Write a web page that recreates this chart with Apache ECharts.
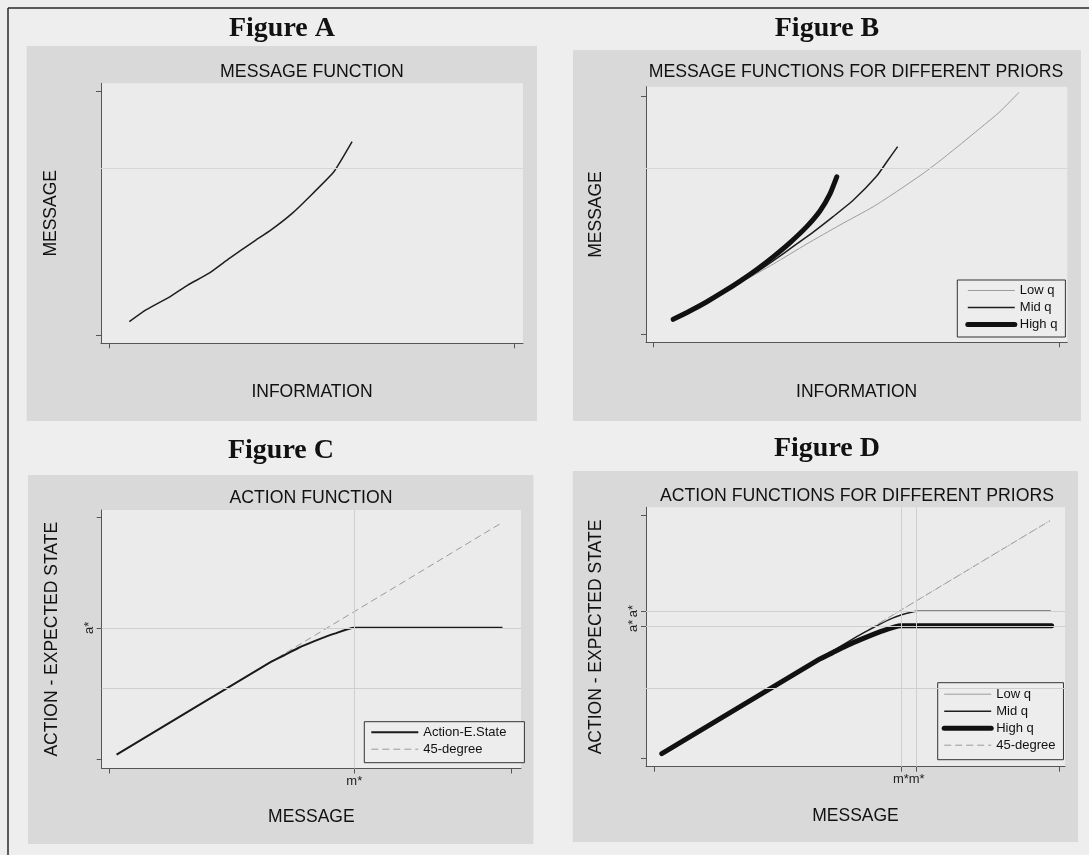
<!DOCTYPE html>
<html>
<head>
<meta charset="utf-8">
<script src="https://cdn.jsdelivr.net/npm/echarts@6/dist/echarts.min.js"></script>
<style>
  html, body { margin: 0; padding: 0; background: #eeeeee; }
  #chart { width: 1089px; height: 855px; }
</style>
</head>
<body>
<div id="chart"></div>
<script>
// ---- Figure A: message function (information -> message), scale 0..100 between end ticks
const messageFn = [[4.9,5.5],[9.0,10.3],[15.0,15.8],[19.3,20.5],[24.5,25.3],[29.6,31.5],[35.6,38.4],[39.9,43.2],[45.1,50.0],[50.2,58.2],[55.4,67.1],[59.9,79.5]];

// ---- Figure B: message functions for three priors
const lowQ  = [[4.9,6.3],[13.1,13.6],[21.3,21.5],[29.6,29.6],[37.8,38.0],[46.0,46.0],[54.2,53.7],[59.9,60.0],[66.5,67.7],[70.6,73.0],[75.5,79.7],[80.5,86.7],[85.4,93.7],[90.1,101.8]];
const midQ  = [[4.9,6.3],[9.0,9.9],[13.1,13.5],[17.2,17.5],[21.3,21.8],[25.5,26.2],[29.6,31.0],[34.5,37.0],[39.4,43.0],[44.3,49.5],[49.3,56.5],[55.0,66.5],[57.5,72.5],[60.2,79.0]];
const highQ = [[4.9,6.3],[9.0,9.8],[13.1,13.6],[17.2,17.8],[21.3,22.3],[25.5,27.3],[29.6,32.7],[33.7,38.6],[37.8,45.3],[41.1,52.0],[43.5,59.0],[45.2,66.3]];

// ---- Figure C: action function with its cap
const mStar = 60.9, aStar = 54.2;
const actionFn  = [[1.9,1.9],[40.0,40.0],[43.5,42.9],[47.0,45.9],[51.0,48.7],[56.0,51.8],[60.9,54.2],[97.7,54.2]];
const diagonalC = [[1.9,1.9],[97.7,97.7]];

// ---- Figure D: action functions for three priors
const mStarHigh = 60.9, mStarMid = 64.8, aStarHigh = 54.5, aStarMid = 60.5;
const lowQD     = [[1.9,1.9],[97.7,97.7]];
const midQD     = [[1.9,1.9],[50.0,50.0],[54.0,53.6],[58.0,57.0],[61.1,59.0],[64.8,60.5],[97.9,60.5]];
const highQD    = [[1.9,1.9],[40.5,40.5],[44.0,43.4],[47.5,46.3],[51.5,49.2],[56.0,52.2],[60.9,54.5],[98.1,54.5]];
const diagonalD = [[1.9,1.9],[97.7,97.7]];

// faint horizontal rules running through each plot region
const ruleA = 68.5, ruleB = 69.9, ruleC = 29.3, ruleD = 29.0;

const SANS = '"Liberation Sans", Arial, sans-serif';
const SERIF = '"Liberation Serif", "Times New Roman", serif';
const AXIS_COLOR = '#555';
const GRID_LINE = '#cfcfcf';

const grids = [
  { left: 101,   top: 83.3,  width: 422,   height: 260 },
  { left: 646,   top: 86.7,  width: 421.3, height: 255.6 },
  { left: 101.7, top: 510,   width: 419.3, height: 258.5 },
  { left: 646,   top: 507.3, width: 419,   height: 259.4 }
].map(g => Object.assign({ show: true, backgroundColor: '#ebebeb', borderWidth: 0, containLabel: false }, g));

function xAxisFor(gi, min, max, ticks, labels, name, nameGap) {
  return {
    type: 'value', gridIndex: gi, min: min, max: max,
    axisLine: { onZero: false, lineStyle: { color: AXIS_COLOR, width: 1 } },
    axisTick: { show: true, customValues: ticks, length: 5, lineStyle: { color: AXIS_COLOR } },
    axisLabel: labels ? { show: true, customValues: labels, formatter: () => 'm*', margin: 6,
                          fontSize: 13, color: '#222', fontFamily: SANS }
                      : { show: false },
    splitLine: { show: false },
    name: name, nameLocation: 'middle', nameGap: nameGap,
    nameTextStyle: { fontSize: 17.5, color: '#111', fontFamily: SANS }
  };
}
function yAxisFor(gi, min, max, ticks, labels, name) {
  return {
    type: 'value', gridIndex: gi, min: min, max: max,
    axisLine: { onZero: false, lineStyle: { color: AXIS_COLOR, width: 1 } },
    axisTick: { show: true, customValues: ticks, length: 5, lineStyle: { color: AXIS_COLOR } },
    axisLabel: labels ? { show: true, customValues: labels, formatter: () => 'a*', rotate: 90, margin: 6,
                          fontSize: 13, color: '#222', fontFamily: SANS }
                      : { show: false },
    splitLine: { show: false },
    name: name, nameLocation: 'middle', nameGap: 41,
    nameTextStyle: { fontSize: 17.5, color: '#111', fontFamily: SANS }
  };
}

function rule(values, color) {
  return { silent: true, symbol: 'none', animation: false, label: { show: false },
           lineStyle: { color: color, type: 'solid', width: 1 },
           data: values };
}

const base = { type: 'line', symbol: 'none', silent: true, animation: false, z: 3 };
const styleLow  = { color: '#9c9c9c', width: 1 };
const styleMid  = { color: '#1e1e1e', width: 1.5 };
const styleHigh = { color: '#111111', width: 5, cap: 'round', join: 'round' };
const style45   = { color: '#9a9a9a', width: 1, type: [7, 4] };

const series = [
  // Figure A
  Object.assign({}, base, { name: 'Message', xAxisIndex: 0, yAxisIndex: 0, data: messageFn, smooth: 0.15,
    lineStyle: styleMid, markLine: rule([{ yAxis: ruleA }], '#d7d7d7') }),
  // Figure B
  Object.assign({}, base, { name: 'Low q',  xAxisIndex: 1, yAxisIndex: 1, data: lowQ,  smooth: 0.2, lineStyle: styleLow,
    markLine: rule([{ yAxis: ruleB }], '#d7d7d7') }),
  Object.assign({}, base, { name: 'Mid q',  xAxisIndex: 1, yAxisIndex: 1, data: midQ,  smooth: 0.2, lineStyle: styleMid }),
  Object.assign({}, base, { name: 'High q', xAxisIndex: 1, yAxisIndex: 1, data: highQ, smooth: 0.2, lineStyle: styleHigh }),
  // Figure C
  Object.assign({}, base, { name: '45-degree', xAxisIndex: 2, yAxisIndex: 2, data: diagonalC, lineStyle: style45,
    markLine: rule([{ xAxis: mStar }, { yAxis: aStar }, { yAxis: ruleC }], GRID_LINE) }),
  Object.assign({}, base, { name: 'Action-E.State', xAxisIndex: 2, yAxisIndex: 2, data: actionFn, smooth: 0.2,
    lineStyle: { color: '#1a1a1a', width: 2 } }),
  // Figure D
  Object.assign({}, base, { name: '45-degree', xAxisIndex: 3, yAxisIndex: 3, data: diagonalD, lineStyle: style45,
    markLine: rule([{ xAxis: mStarHigh }, { xAxis: mStarMid }, { yAxis: aStarHigh }, { yAxis: aStarMid }, { yAxis: ruleD }], GRID_LINE) }),
  Object.assign({}, base, { name: 'Low q',  xAxisIndex: 3, yAxisIndex: 3, data: lowQD,  lineStyle: { color: '#b0b0b0', width: 1, type: [2, 2] } }),
  Object.assign({}, base, { name: 'Mid q',  xAxisIndex: 3, yAxisIndex: 3, data: midQD,  smooth: 0.2, lineStyle: styleMid }),
  Object.assign({}, base, { name: 'High q', xAxisIndex: 3, yAxisIndex: 3, data: highQD, smooth: 0.2, lineStyle: styleHigh })
];

// legend entries show only the line sample, never a symbol
function legendBox(left, top, padding, items) {
  return {
    left: left, top: top, orient: 'vertical', selectedMode: false,
    itemWidth: 47, itemHeight: 14, itemGap: 4, padding: padding,
    backgroundColor: '#ededed', borderColor: '#333', borderWidth: 1, borderRadius: 0,
    itemStyle: { opacity: 0 },
    textStyle: { fontSize: 13, color: '#111', fontFamily: SANS },
    data: items
  };
}
const hidden = { opacity: 0 };
const lowItem  = { name: 'Low q',  itemStyle: hidden, lineStyle: { width: 1 } };
const midItem  = { name: 'Mid q',  itemStyle: hidden, lineStyle: { width: 1.5 } };
const highItem = { name: 'High q', itemStyle: hidden, lineStyle: { width: 5 } };
const degItem  = { name: '45-degree', itemStyle: hidden, lineStyle: { width: 1 } };

const legends = [
  legendBox(957.3, 280,  [4, 8, 6, 8], [lowItem, midItem, highItem]),
  legendBox(364.3, 721.7, [4, 18, 7, 6], [{ name: 'Action-E.State', itemStyle: hidden, lineStyle: { width: 2 } }, degItem]),
  legendBox(937.7, 682.7, [5, 8, 8, 4], [lowItem, midItem, highItem, degItem])
];

function txt(x, y, text, font) {
  return { type: 'text', x: x, y: y, silent: true,
           style: { text: text, font: font, fill: '#111', align: 'center', verticalAlign: 'middle' } };
}
function panel(x1, y1, x2, y2) {
  return { type: 'rect', silent: true, z: -10, shape: { x: x1, y: y1, width: x2 - x1, height: y2 - y1 },
           style: { fill: '#d9d9d9' } };
}
const FIG_FONT = 'bold 28px ' + SERIF;
const SUB_FONT = '17.7px ' + SANS;

const graphics = [
  panel(26.7, 46, 537, 421),
  panel(573, 50, 1081, 421),
  panel(28, 475, 533.5, 844),
  panel(572.8, 471, 1078, 842),
  { type: 'line', silent: true, shape: { x1: 8, y1: 8, x2: 1089, y2: 8 }, style: { stroke: '#2a2a2a', lineWidth: 1.5 } },
  { type: 'line', silent: true, shape: { x1: 8, y1: 8, x2: 8, y2: 855 }, style: { stroke: '#2a2a2a', lineWidth: 1.5 } },
  txt(282, 29, 'Figure A', FIG_FONT),
  txt(827, 29, 'Figure B', FIG_FONT),
  txt(281, 451, 'Figure C', FIG_FONT),
  txt(827, 449, 'Figure D', FIG_FONT),
  txt(312, 71.7, 'MESSAGE FUNCTION', SUB_FONT),
  txt(856, 71.7, 'MESSAGE FUNCTIONS FOR DIFFERENT PRIORS', SUB_FONT),
  txt(311, 498.3, 'ACTION FUNCTION', SUB_FONT),
  txt(857, 496, 'ACTION FUNCTIONS FOR DIFFERENT PRIORS', SUB_FONT)
];

const option = {
  backgroundColor: '#eeeeee',
  animation: false,
  grid: grids,
  xAxis: [
    xAxisFor(0, -2.1, 102.1, [0, 100], null, 'INFORMATION', 39.5),
    xAxisFor(1, -1.8, 102.0, [0, 100], null, 'INFORMATION', 40.5),
    xAxisFor(2, -1.8, 102.3, [0, mStar, 100], [mStar], 'MESSAGE', 39.2),
    xAxisFor(3, -2.0, 101.4, [0, mStarHigh, mStarMid, 100], [mStarHigh, mStarMid], 'MESSAGE', 40.3)
  ],
  yAxis: [
    yAxisFor(0, -3.4, 103.45, [0, 100], null, 'MESSAGE'),
    yAxisFor(1, -3.37, 104.2, [0, 100], null, 'MESSAGE'),
    yAxisFor(2, -3.8, 102.8, [0, aStar, 100], [aStar], 'ACTION - EXPECTED STATE'),
    yAxisFor(3, -3.45, 103.2, [0, aStarHigh, aStarMid, 100], [aStarHigh, aStarMid], 'ACTION - EXPECTED STATE')
  ],
  legend: legends,
  series: series,
  graphic: graphics
};

const chart = echarts.init(document.getElementById('chart'), null, { renderer: 'canvas' });
chart.setOption(option);
</script>
</body>
</html>
